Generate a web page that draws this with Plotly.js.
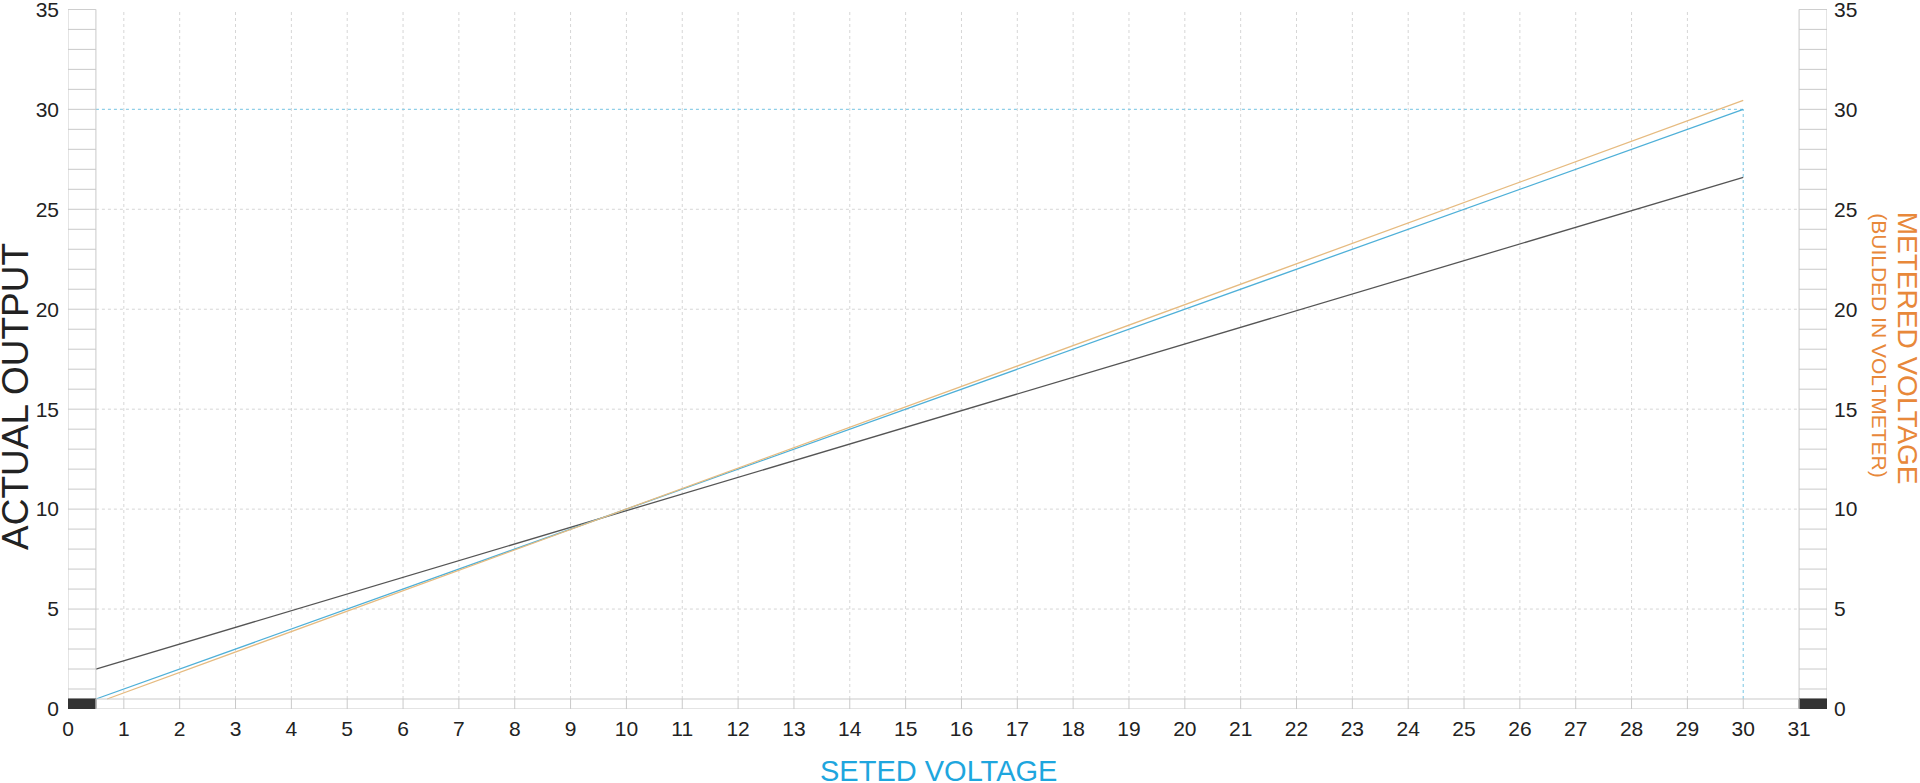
<!DOCTYPE html>
<html>
<head>
<meta charset="utf-8">
<script src="https://cdn.plot.ly/plotly-3.0.1.min.js"></script>
<style>
html,body{margin:0;padding:0;background:#fff;}
#chart{width:1920px;height:783px;}
</style>
</head>
<body>
<div id="chart"></div>
<script>
// ---- data ----
const xTickVals = [0,1,2,3,4,5,6,7,8,9,10,11,12,13,14,15,16,17,18,19,20,21,22,23,24,25,26,27,28,29,30,31];
const yTickVals = [0,5,10,15,20,25,30,35];
const idealX = [0.5, 30];
const idealY = [0.5, 30];
const meteredX = [0.7, 30];
const meteredY = [0.5, 30.45];
const actualX = [0.5, 30];
const actualY = [2.0, 26.6];

const FONT = 'Liberation Sans, Arial, sans-serif';
const bandLine = {color:'#c9c9c9', width:1};
const shapes = [];

// vertical dotted grid
for (let i = 1; i <= 29; i++) {
  shapes.push({type:'line', xref:'x', yref:'y', x0:i, x1:i, y0:0.5, y1:35, layer:'below',
    line:{color:'#d6d6d6', width:1, dash:'dot'}});
}
// horizontal dotted grid
for (const v of [5,10,15,20,25]) {
  shapes.push({type:'line', xref:'x', yref:'y', x0:0.5, x1:31, y0:v, y1:v, layer:'below',
    line:{color:'#d6d6d6', width:1, dash:'dot'}});
}
// highlighted reference lines at 30
shapes.push({type:'line', xref:'x', yref:'y', x0:0.5, x1:30, y0:30, y1:30, layer:'below',
  line:{color:'#8fcfe8', width:1.2, dash:'dot'}});
shapes.push({type:'line', xref:'x', yref:'y', x0:30, x1:30, y0:0.5, y1:30, layer:'below',
  line:{color:'#8fcfe8', width:1.2, dash:'dot'}});

// left & right bands
for (const bx of [0, 31]) {
  shapes.push({type:'rect', xref:'x', yref:'y', x0:bx, x1:bx+0.5, y0:0.5, y1:35, layer:'above',
    fillcolor:'rgba(255,255,255,0)', line:bandLine});
  for (let j = 1; j <= 34; j++) {
    shapes.push({type:'line', xref:'x', yref:'y', x0:bx, x1:bx+0.5, y0:j, y1:j, layer:'above', line:bandLine});
  }
  shapes.push({type:'rect', xref:'x', yref:'y', x0:bx, x1:bx+0.5, y0:0, y1:0.5, layer:'above',
    fillcolor:'#333333', line:{color:'#333333', width:1}});
}
// bottom band
shapes.push({type:'rect', xref:'x', yref:'y', x0:0.5, x1:31, y0:0, y1:0.5, layer:'above',
  fillcolor:'rgba(255,255,255,0)', line:bandLine});
for (let i = 1; i <= 30; i++) {
  shapes.push({type:'line', xref:'x', yref:'y', x0:i, x1:i, y0:0, y1:0.5, layer:'above', line:bandLine});
}

const traces = [
  {x: actualX, y: actualY, mode:'lines', line:{color:'#555555', width:1.3}, hoverinfo:'skip', name:'Actual'},
  {x: idealX, y: idealY, mode:'lines', line:{color:'#4fb0d8', width:1.3}, hoverinfo:'skip', name:'Set'},
  {x: meteredX, y: meteredY, mode:'lines', line:{color:'#e6bb80', width:1.3}, hoverinfo:'skip', name:'Metered'},
  {x: [0,31.5], y: [0,0], yaxis:'y2', mode:'lines', line:{width:0}, hoverinfo:'skip', showlegend:false}
];

const layout = {
  width:1920, height:783,
  margin:{l:68, r:93, t:9.1, b:74, pad:0},
  paper_bgcolor:'#ffffff', plot_bgcolor:'#ffffff',
  showlegend:false,
  font:{family:FONT, color:'#222222', size:21},
  xaxis:{range:[0,31.5], tickvals:xTickVals, ticktext:xTickVals.map(String), showgrid:false,
    zeroline:false, showline:false, ticks:'', ticklabelstandoff:5, fixedrange:true, ticklabeloverflow:'allow',
    tickfont:{family:FONT, size:21, color:'#222'}},
  yaxis:{range:[0,35.02], tickvals:yTickVals, ticktext:yTickVals.map(String), showgrid:false,
    zeroline:false, showline:false, ticks:'', ticklabelstandoff:8, fixedrange:true, ticklabeloverflow:'allow',
    tickfont:{family:FONT, size:21, color:'#222'}},
  yaxis2:{range:[0,35.02], overlaying:'y', side:'right', tickvals:yTickVals, ticktext:yTickVals.map(String),
    showgrid:false, zeroline:false, showline:false, ticks:'', ticklabelstandoff:6, fixedrange:true, ticklabeloverflow:'allow',
    tickfont:{family:FONT, size:21, color:'#222'}},
  shapes: shapes,
  annotations:[
    {text:'SETED VOLTAGE', xref:'paper', yref:'paper', x:0.4946, y:-0.088, xanchor:'center', yanchor:'middle',
      showarrow:false, font:{family:FONT, size:29, color:'#1ea6de'}},
    {text:'ACTUAL OUTPUT', xref:'paper', yref:'paper', x:-0.0295, y:0.446, xanchor:'center', yanchor:'middle',
      textangle:-90, showarrow:false, font:{family:FONT, size:37, color:'#222222'}},
    {text:'METERED VOLTAGE', xref:'paper', yref:'paper', x:1.0455, y:0.516, xanchor:'center', yanchor:'middle',
      textangle:90, showarrow:false, font:{family:FONT, size:28, color:'#e8883a'}},
    {text:'(BUILDED IN VOLTMETER)', xref:'paper', yref:'paper', x:1.030, y:0.520, xanchor:'center', yanchor:'middle',
      textangle:90, showarrow:false, font:{family:FONT, size:21, color:'#e8883a'}}
  ]
};

Plotly.newPlot('chart', traces, layout, {staticPlot:true, displayModeBar:false});
</script>
</body>
</html>
